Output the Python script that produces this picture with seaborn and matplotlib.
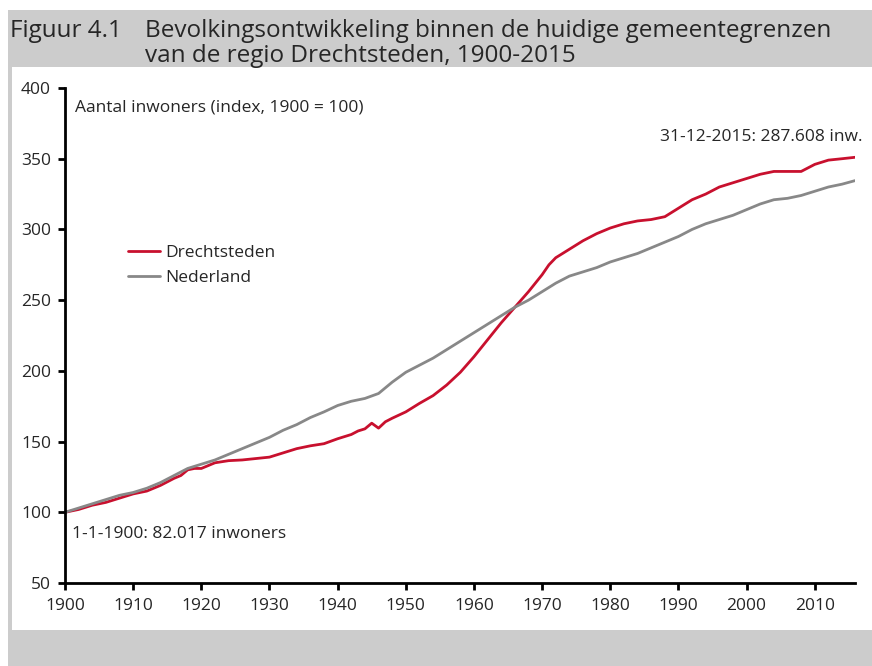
import numpy as np
import pandas as pd
import matplotlib
matplotlib.use("Agg")
import matplotlib.pyplot as plt
import seaborn as sns
from matplotlib.patches import Rectangle

# waarden (index 1900 = 100)
jaren_dr = [1900, 1902, 1904, 1906, 1908, 1910, 1912, 1914, 1916, 1917, 1918, 1919, 1920,
            1921, 1922, 1924, 1926, 1928, 1930, 1932, 1934, 1936, 1938, 1940, 1942, 1943,
            1944, 1945, 1946, 1947, 1948, 1950, 1952, 1954, 1956, 1958, 1960, 1962, 1964,
            1966, 1968, 1970, 1971, 1972, 1974, 1976, 1978, 1980, 1982, 1984, 1986, 1988,
            1990, 1992, 1994, 1996, 1998, 2000, 2002, 2004, 2006, 2008, 2010, 2012, 2014, 2015.9]
drechtsteden = [100, 102, 105, 107, 110, 113, 115, 119, 124, 126, 130, 131, 131,
                133, 135, 136.5, 137, 138, 139, 142, 145, 147, 148.5, 152, 155, 157.5,
                159, 163, 159.5, 164, 166.5, 171, 177, 182.5, 190, 199, 210, 222, 234,
                245, 256, 268, 275, 280, 286, 292, 297, 301, 304, 306, 307, 309,
                315, 321, 325, 330, 333, 336, 339, 341, 341, 341, 346, 349, 350, 351]

jaren_nl = [1900, 1902, 1904, 1906, 1908, 1910, 1912, 1914, 1916, 1918, 1920, 1922, 1924,
            1926, 1928, 1930, 1932, 1934, 1936, 1938, 1940, 1942, 1944, 1946, 1948, 1950,
            1952, 1954, 1956, 1958, 1960, 1962, 1964, 1966, 1968, 1970, 1972, 1974, 1976,
            1978, 1980, 1982, 1984, 1986, 1988, 1990, 1992, 1994, 1996, 1998, 2000, 2002,
            2004, 2006, 2008, 2010, 2012, 2014, 2015.9]
nederland = [100, 103, 106, 109, 112, 114, 117, 121, 126, 131, 134, 137, 141,
             145, 149, 153, 158, 162, 167, 171, 175.5, 178.5, 180.5, 184, 192, 199,
             204, 209, 215, 221, 227, 233, 239, 245, 250, 256, 262, 267, 270,
             273, 277, 280, 283, 287, 291, 295, 300, 304, 307, 310, 314, 318,
             321, 322, 324, 327, 330, 332, 334.5]

df = pd.concat([
    pd.DataFrame({"jaar": jaren_dr, "index": drechtsteden, "gebied": "Drechtsteden"}),
    pd.DataFrame({"jaar": jaren_nl, "index": nederland, "gebied": "Nederland"}),
])

sns.set_style("white")
plt.rcParams["font.family"] = ["Open Sans", "DejaVu Sans"]

W, H = 872, 666
fig = plt.figure(figsize=(W / 100, H / 100), dpi=100)
grijs = "#cccccc"
fig.patches.append(Rectangle((8 / W, 0), 1 - 8 / W, 1 - 10 / H, transform=fig.transFigure,
                             facecolor=grijs, edgecolor="none", zorder=-2))
fig.patches.append(Rectangle((12 / W, 36 / H), 1 - 12 / W, (630 - 67) / H, transform=fig.transFigure,
                             facecolor="white", edgecolor="none", zorder=-1))

tfs = 17.5
fig.text(10 / W, 1 - 37 / H, "Figuur 4.1", fontsize=tfs, va="baseline", ha="left")
fig.text(145 / W, 1 - 37 / H, "Bevolkingsontwikkeling binnen de huidige gemeentegrenzen",
         fontsize=tfs, va="baseline", ha="left")
fig.text(145 / W, 1 - 62 / H, "van de regio Drechtsteden, 1900-2015",
         fontsize=tfs, va="baseline", ha="left")

ax = fig.add_axes([65 / W, 1 - 583 / H, (855 - 65) / W, (583 - 88) / H])
ax.patch.set_alpha(0)
sns.lineplot(data=df, x="jaar", y="index", hue="gebied",
             palette={"Drechtsteden": "#c8102e", "Nederland": "#888888"},
             linewidth=2, ax=ax)

ax.set_xlim(1900, 2015.9)
ax.set_ylim(50, 400)
ax.set_xticks(range(1900, 2011, 10))
ax.set_yticks(range(50, 401, 50))
ax.set_xlabel("")
ax.set_ylabel("")
for s in ["top", "right"]:
    ax.spines[s].set_visible(False)
for s in ["left", "bottom"]:
    ax.spines[s].set_linewidth(2)
    ax.spines[s].set_color("black")
ax.tick_params(axis="both", direction="out", length=5, width=2, labelsize=12.5, color="black",
               bottom=True, left=True)
ax.tick_params(axis="x", pad=6)
ax.tick_params(axis="y", pad=5)

fs = 12.5
ax.text(75 / W, 1 - 108 / H, "Aantal inwoners (index, 1900 = 100)", transform=fig.transFigure,
        fontsize=fs, va="center", ha="left")
ax.text(862 / W, 1 - 137 / H, "31-12-2015: 287.608 inw.", transform=fig.transFigure,
        fontsize=fs, va="center", ha="right")
ax.text(72 / W, 1 - 534 / H, "1-1-1900: 82.017 inwoners", transform=fig.transFigure,
        fontsize=fs, va="center", ha="left")

leg = ax.legend(loc="upper left", bbox_to_anchor=(128 / W, 1 - 245 / H),
                bbox_transform=fig.transFigure, frameon=False, fontsize=fs,
                handlelength=1.85, handletextpad=0.3, labelspacing=0.5, borderpad=0, borderaxespad=0)

fig.savefig("out.png", dpi=100)
